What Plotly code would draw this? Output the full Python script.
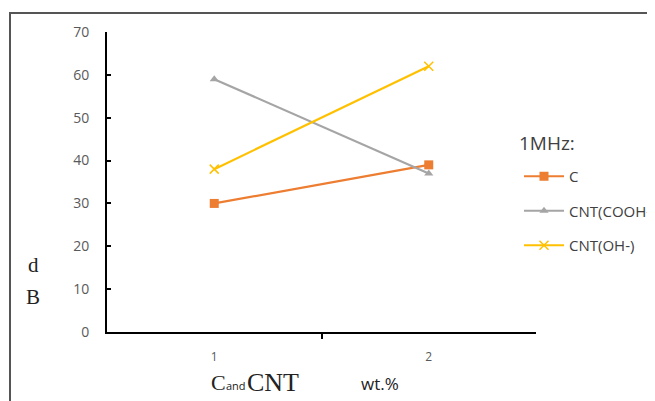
import plotly.graph_objects as go

categories = ["1", "2"]
series_names = ["C", "CNT(COOH-)", "CNT(OH-)"]
c_values = [30, 39]
cooh_values = [59, 37]
oh_values = [38, 62]
y_ticks = [0, 10, 20, 30, 40, 50, 60, 70]

colors = ["#ED7D31", "#A5A5A5", "#FFC000"]
symbols = ["square", "triangle-up", "x-thin"]
all_values = [c_values, cooh_values, oh_values]
x_pos = list(range(1, len(categories) + 1))

# page body has an 8px margin; figure is sized to fit the window
OFF = 8
W, H = 655 - OFF, 401 - OFF
L, T = 107 - OFF, 32 - OFF
PW, PH = 429, 300
R, B = W - L - PW, H - T - PH


def px(xr):  # reference-pixel x -> paper
    return (xr - OFF - L) / PW


def py(yr):  # reference-pixel y -> paper
    return (H - B - (yr - OFF)) / PH


fig = go.Figure()
for i, (name, vals) in enumerate(zip(series_names, all_values)):
    fig.add_trace(go.Scatter(
        x=x_pos, y=vals, name=name, mode="lines+markers",
        line=dict(color=colors[i], width=2.2),
        marker=dict(symbol=symbols[i], size=9 if i != 1 else 8, color=colors[i],
                    line=dict(color=colors[i], width=1.5 if i == 2 else 0)),
        legendgroup=name,
    ))

fig.update_layout(
    width=W, height=H,
    margin=dict(l=L, r=R, t=T, b=B, autoexpand=False),
    paper_bgcolor="white", plot_bgcolor="white",
    font=dict(family="Open Sans, Arial, sans-serif", color="#595959", size=11),
    showlegend=True,
    legend=dict(
        x=px(519), xanchor="left", y=py(160), yanchor="top",
        font=dict(size=15, color="#404040"),
        tracegroupgap=12, itemwidth=40,
        bgcolor="rgba(0,0,0,0)",
    ),
    xaxis=dict(
        range=[0.5, len(categories) + 0.5],
        tickvals=x_pos, ticktext=categories, ticks="",
        minor=dict(tickvals=[1.5], ticks="outside", ticklen=5,
                   tickcolor="black", tickwidth=2),
        showline=True, linecolor="black", linewidth=2,
        showgrid=False, zeroline=False,
        ticklabelstandoff=13,
        tickfont=dict(size=12, color="#595959"),
    ),
    yaxis=dict(
        range=[0, 70], tickvals=y_ticks,
        showline=True, linecolor="black", linewidth=2,
        ticks="inside", ticklen=4, tickcolor="black", tickwidth=2,
        showgrid=False, zeroline=False,
        ticklabelstandoff=13,
        tickfont=dict(size=14, color="#595959"),
    ),
    shapes=[dict(type="rect", xref="paper", yref="paper",
                 x0=px(10), x1=px(700), y0=py(440), y1=py(13),
                 line=dict(color="#555555", width=2), fillcolor="rgba(0,0,0,0)",
                 layer="below")],
)

serif = "Liberation Serif, Times New Roman, serif"
ann = [
    dict(text="1MHz:", x=517, y=143, anchor="left", font=dict(size=19, color="#404040")),
    dict(text="d", x=33, y=265, font=dict(family=serif, size=21, color="#222222")),
    dict(text="B", x=33, y=297, font=dict(family=serif, size=21, color="#222222")),
    dict(text="C", x=218, y=382, font=dict(family=serif, size=22, color="#222222")),
    dict(text="and", x=236, y=385, font=dict(size=11, color="#222222")),
    dict(text="CNT", x=273, y=382, font=dict(family=serif, size=26, color="#222222")),
    dict(text="wt.%", x=380, y=383, font=dict(size=17, color="#222222")),
]
for a in ann:
    fig.add_annotation(
        text=a["text"], xref="paper", yref="paper",
        x=px(a["x"]), y=py(a["y"]),
        xanchor=a.get("anchor", "center"), yanchor="middle", showarrow=False,
        font=a["font"],
    )

fig.write_html("out.html")
